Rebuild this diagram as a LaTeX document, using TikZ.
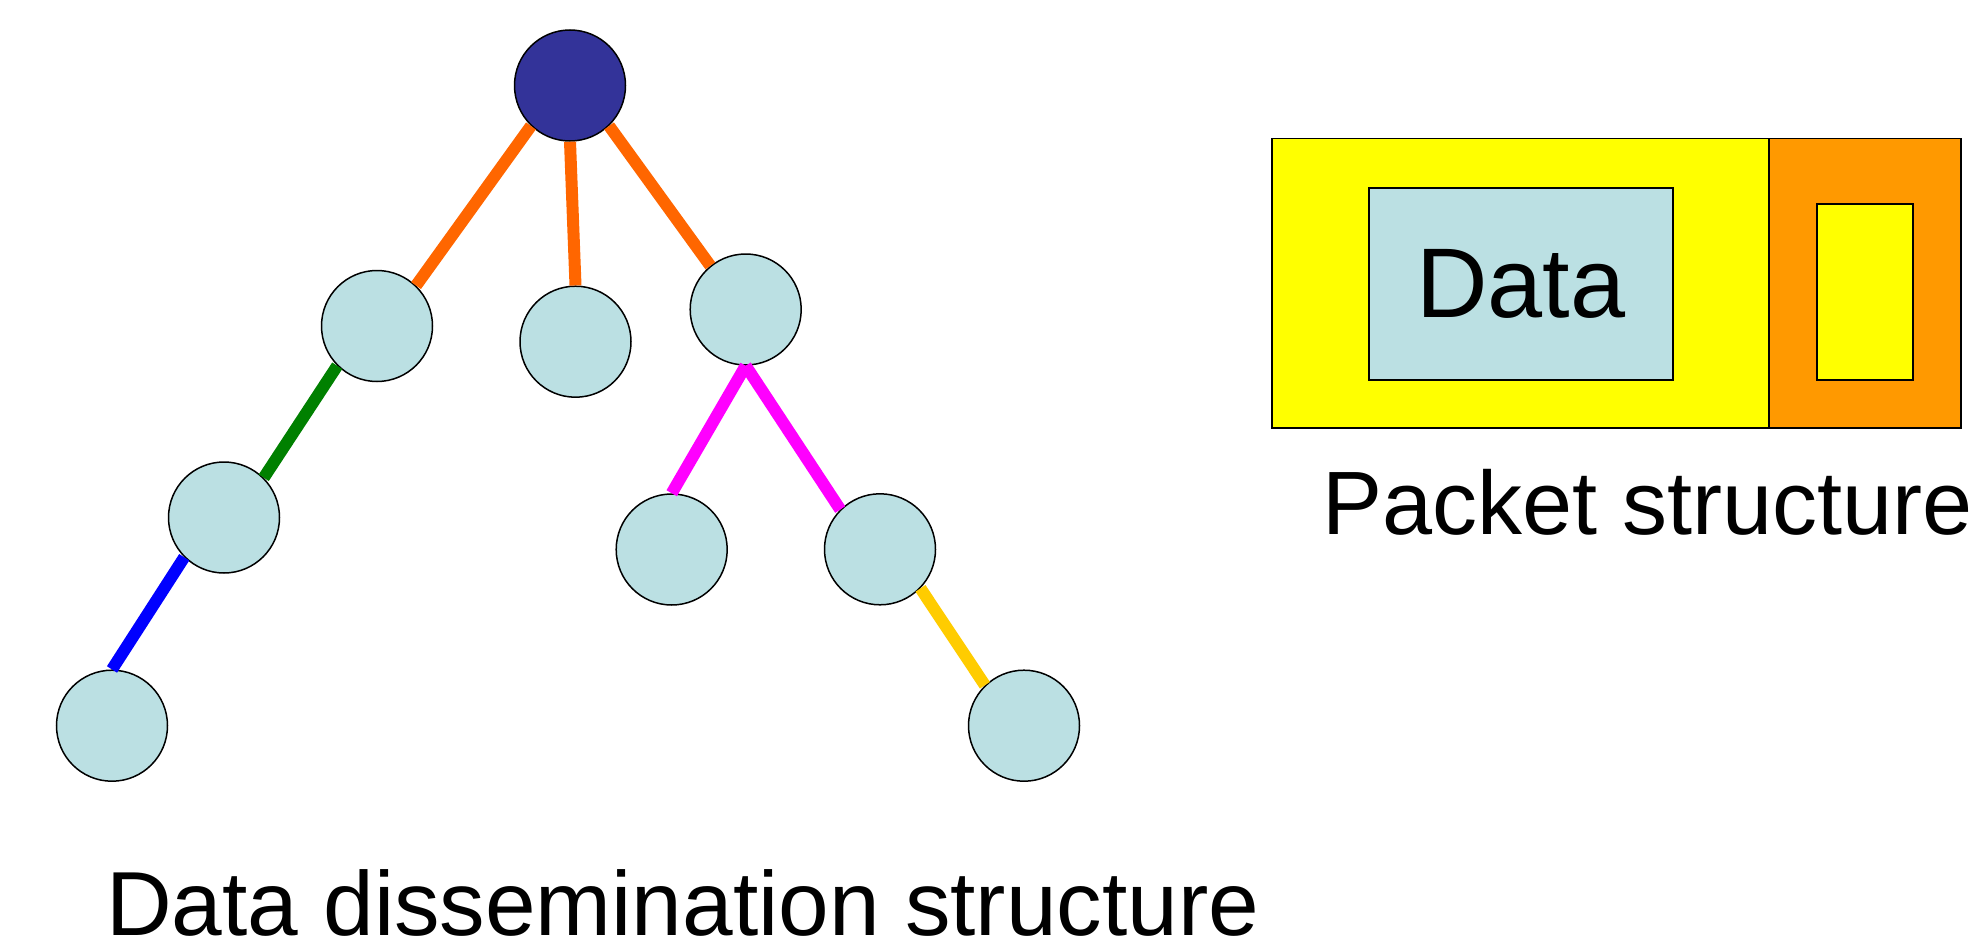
\documentclass[tikz,border=0pt]{standalone}
\usepackage{fontspec}
\setmainfont{Liberation Sans}
\definecolor{rootblue}{HTML}{333399}
\definecolor{nodefill}{HTML}{BBE0E3}
\definecolor{edgeorange}{HTML}{FF6600}
\definecolor{edgegreen}{HTML}{008000}
\definecolor{edgeblue}{HTML}{0000FF}
\definecolor{edgemagenta}{HTML}{FF00FF}
\definecolor{edgegold}{HTML}{FFCC00}
\definecolor{pktyellow}{HTML}{FFFF00}
\definecolor{pktorange}{HTML}{FF9900}
\begin{document}
\begin{tikzpicture}[x=1pt,y=-1pt,
  treenode/.style={circle,draw=black,line width=1.5pt,fill=nodefill,minimum size=111pt,inner sep=0pt},
  rootnode/.style={treenode,fill=rootblue},
  link/.style={line width=12pt,line cap=butt},
  field/.style={rectangle,draw=black,line width=1.5pt,inner sep=0pt,anchor=north west},
  caption/.style={inner sep=0pt,anchor=base west,font=\fontsize{91}{100}\selectfont}
]
\useasboundingbox (0,0) rectangle (1970,947);
\fill[white] (0,0) rectangle (1970,947);

% dissemination tree
\node[rootnode] (root) at (570,85.5) {};
\node[treenode] (a) at (377,326) {};
\node[treenode] (b) at (575.5,341.7) {};
\node[treenode] (c) at (745.7,309.5) {};
\node[treenode] (d) at (224,517.5) {};
\node[treenode] (e) at (671.7,549.5) {};
\node[treenode] (f) at (880,549.3) {};
\node[treenode] (g) at (112,725.7) {};
\node[treenode] (h) at (1024,725.7) {};

\draw[link,edgeorange] (root.226) -- (a.46);
\draw[link,edgeorange] (root.270) -- (b.90);
\draw[link,edgeorange] (root.314) -- (c.129);
\draw[link,edgegreen] (a.225) -- (d.45);
\draw[link,edgeblue] (d.225) -- (g.90);
\draw[link,edgemagenta] (c.270) -- (e.90);
\draw[link,edgemagenta] (c.270) -- (f.135);
\draw[link,edgegold] (f.316) -- (h.134);

\node[caption] (treecap) at (106,935) {Data dissemination structure};

% packet layout
\node[field,fill=pktyellow,minimum width=497pt,minimum height=289pt] (payload) at (1271,138) {};
\node[field,fill=pktorange,minimum width=192pt,minimum height=289pt] (trailer) at (1768,138) {};
\node[field,fill=nodefill,minimum width=304pt,minimum height=192pt,font=\fontsize{99}{110}\selectfont] (data) at (1368,187) {Data};
\node[field,fill=pktyellow,minimum width=96pt,minimum height=176pt] (slot) at (1816,203) {};

\node[caption,font=\fontsize{90}{100}\selectfont] (pktcap) at (1322,534) {Packet structure};
\end{tikzpicture}
\end{document}
